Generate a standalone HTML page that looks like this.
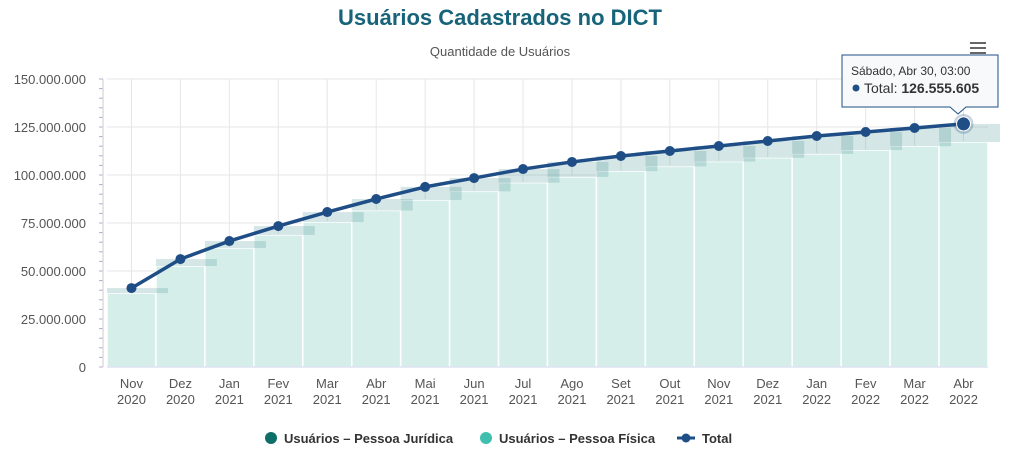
<!DOCTYPE html>
<html><head><meta charset="utf-8"><style>
body{margin:0;background:#fff;font-family:"Liberation Sans","DejaVu Sans",sans-serif}
</style></head><body>
<svg id="c" width="1024" height="468" xmlns="http://www.w3.org/2000/svg">
<text x="500" y="25" text-anchor="middle" font-size="22" font-weight="bold" fill="#17647a">Usuários Cadastrados no DICT</text>
<text x="500" y="56" text-anchor="middle" font-size="13" fill="#555">Quantidade de Usuários</text>
<g><rect x="970" y="42" width="16" height="2" fill="#666"/><rect x="970" y="47" width="16" height="2" fill="#666"/><rect x="970" y="52" width="16" height="2" fill="#666"/></g>
<g id="grid"></g><g id="bars"></g><g id="line"></g><g id="axes"></g>
<g>
<path d="M842,55 H998 V107 H966 L958,114 L950,107 H842 Z" fill="#f7f9fb" stroke="#1f4e86" stroke-width="1"/>
<text x="851" y="75" font-size="12" fill="#333">Sábado, Abr 30, 03:00</text>
<circle cx="856" cy="88" r="3.5" fill="#1f4e86"/>
<text x="864" y="93" font-size="14" fill="#333">Total: <tspan font-weight="bold">126.555.605</tspan></text>
</g>
<g>
<g><circle cx="271" cy="438" r="6" fill="#0e6e6a"/><text x="284" y="443" font-size="13" font-weight="bold" fill="#333">Usuários – Pessoa Jurídica</text></g>
<g><circle cx="486" cy="438" r="6" fill="#3fbfae"/><text x="499" y="443" font-size="13" font-weight="bold" fill="#333">Usuários – Pessoa Física</text></g>
<g><line x1="677" y1="438" x2="695" y2="438" stroke="#1f4e86" stroke-width="3"/><circle cx="686" cy="438" r="4.5" fill="#1f4e86"/><text x="702" y="443" font-size="13" font-weight="bold" fill="#333">Total</text></g>
</g>
</svg>
<script>
const months=["Nov","Dez","Jan","Fev","Mar","Abr","Mai","Jun","Jul","Ago","Set","Out","Nov","Dez","Jan","Fev","Mar","Abr"];
const years=["2020","2020","2021","2021","2021","2021","2021","2021","2021","2021","2021","2021","2021","2021","2022","2022","2022","2022"];
const total=[41.1,56.2,65.6,73.4,80.7,87.5,93.8,98.4,103.1,106.8,109.9,112.5,115.1,117.7,120.3,122.4,124.5,126.6];
const fisica=[38.5,52.6,62,68.8,75.5,81.5,87,91.5,96,99,102,104.5,107,109,111,113,115,117.2];
const yTicks=["0","25.000.000","50.000.000","75.000.000","100.000.000","125.000.000","150.000.000"];
const NS="http://www.w3.org/2000/svg";
const L=107,R=988,T=79,B=367,n=months.length,step=(R-L)/n;
const xc=i=>L+step*(i+0.5), y=v=>B-(B-T)*v/150;
function mk(p,tag,a){const e=document.createElementNS(NS,tag);for(const k in a)e.setAttribute(k,a[k]);document.getElementById(p).appendChild(e);return e;}
yTicks.forEach((t,i)=>{const yy=y(i*25);
 const g=mk("grid","line",{x1:L,x2:R,y1:yy,y2:yy,stroke:"#e6e6e6"});
 
 const tx=mk("axes","text",{x:86,y:yy+5,"text-anchor":"end","font-size":"13",fill:"#555"});tx.textContent=t;
 });
for(let v=0;v<=150;v+=5){mk("axes","line",{x1:99,x2:103,y1:y(v),y2:y(v),stroke:"#b8a8d8"});}
mk("axes","line",{x1:103,x2:103,y1:T,y2:B,stroke:"#ccc"});
months.forEach((m,i)=>{
 const gx=mk("grid","line",{x1:xc(i),x2:xc(i),y1:T,y2:B,stroke:"#e6e6e6"});
 
 const t1=mk("axes","text",{x:xc(i),y:388,"text-anchor":"middle","font-size":"13",fill:"#555"});t1.textContent=m;
 
 const t2=mk("axes","text",{x:xc(i),y:404,"text-anchor":"middle","font-size":"13",fill:"#555"});t2.textContent=years[i];
 
});
mk("axes","line",{x1:L,x2:R,y1:B,y2:B,stroke:"#ccd6eb"});
months.forEach((m,i)=>{
 const x0=L+step*i;
 const bf=mk("bars","rect",{x:x0,y:y(fisica[i]),width:step,height:B-y(fisica[i]),fill:"#d5eeea",stroke:"#fff","stroke-width":"1.5"});
 
});
months.forEach((m,i)=>{
 const x0=L+step*i;
 const bj=mk("bars","rect",{x:x0,y:y(total[i]),width:step+12,height:y(fisica[i])-y(total[i]),fill:"rgba(60,140,140,0.22)"});
 
});
let d="";total.forEach((v,i)=>{d+=(i?"L":"M")+xc(i)+","+y(v);});
const pl=mk("line","path",{d:d,fill:"none",stroke:"#1f4e86","stroke-width":"3.5","stroke-linejoin":"round"});

total.forEach((v,i)=>{
 if(i===n-1){mk("line","circle",{cx:xc(i),cy:y(v),r:10,fill:"rgba(31,78,134,0.25)"});}
 const c=mk("line","circle",{cx:xc(i),cy:y(v),r:i===n-1?7:5,fill:"#1f4e86",stroke:i===n-1?"#fff":"none","stroke-width":"1"});
 
});
</script>
</body></html>
